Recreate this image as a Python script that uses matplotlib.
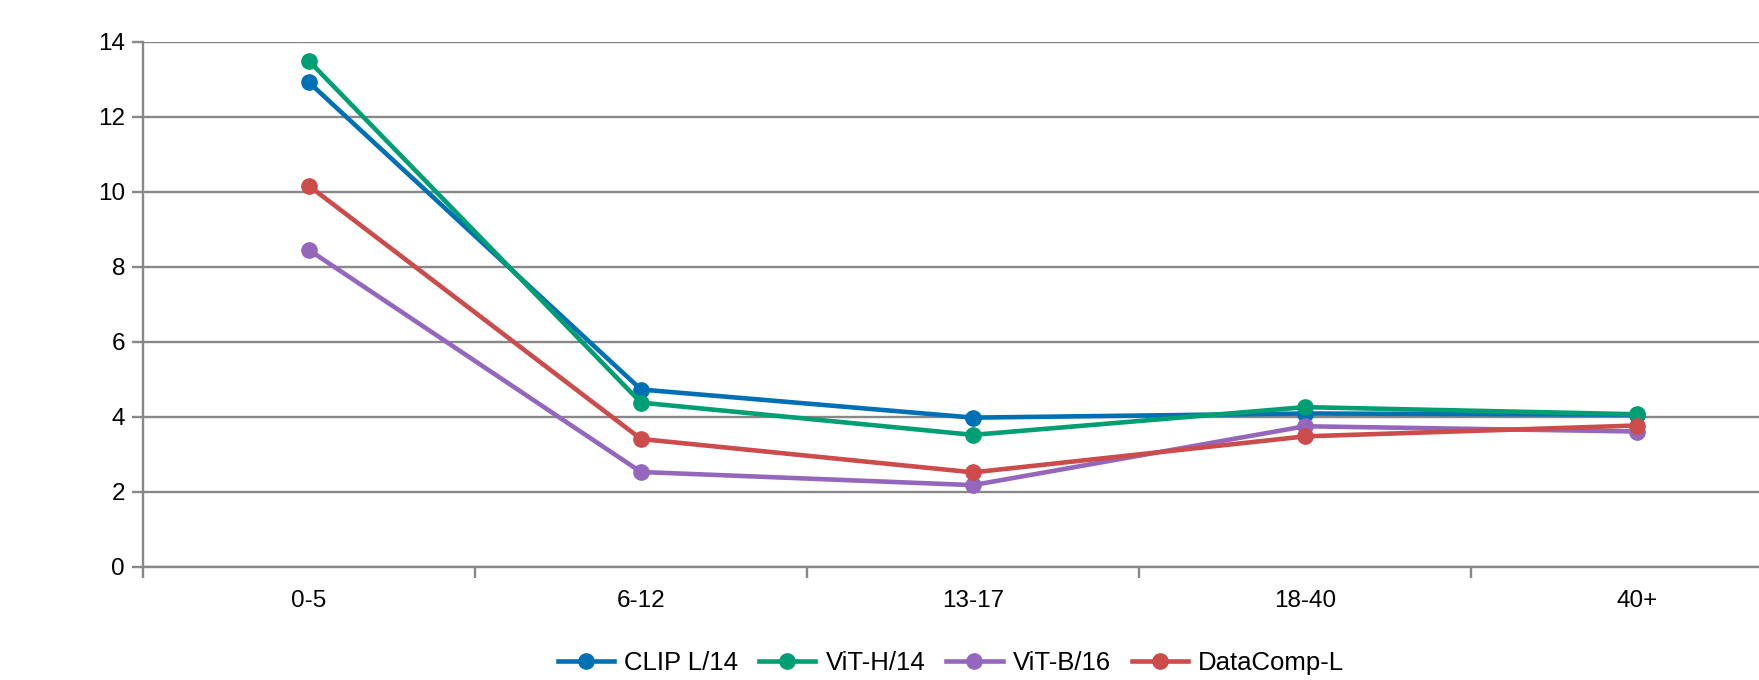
import matplotlib
matplotlib.use("Agg")
from matplotlib import pyplot as plt

plt.rcParams['font.family'] = ['Liberation Sans', 'DejaVu Sans']

age_groups = ['0-5', '6-12', '13-17', '18-40', '40+']
clip_l14 = [12.91, 4.72, 3.97, 4.08, 4.05]
vit_h14 = [13.48, 4.37, 3.51, 4.25, 4.06]
vit_b16 = [8.44, 2.52, 2.17, 3.74, 3.60]
datacomp_l = [10.15, 3.40, 2.51, 3.47, 3.76]

series = [
    ('CLIP L/14', clip_l14, '#0070B5'),
    ('ViT-H/14', vit_h14, '#009E73'),
    ('ViT-B/16', vit_b16, '#9467BD'),
    ('DataComp-L', datacomp_l, '#CC4B4B'),
]

fig = plt.figure(figsize=(17.59, 6.8), dpi=100)
ax = fig.add_axes([143 / 1759, 1 - 566.5 / 680, (1803 - 143) / 1759, (566.5 - 41.5) / 680])

xs = [i + 0.5 for i in range(len(age_groups))]
for name, vals, color in series:
    ax.plot(xs, vals, color=color, lw=3.3, marker='o', markersize=11,
            label=name, solid_joinstyle='round', zorder=3)

ax.set_xlim(0, 5)
ax.set_ylim(0, 14)
ax.set_yticks(range(0, 15, 2))
ax.grid(axis='y', color='#888888', lw=1.7, zorder=1)

# category boundaries as major ticks, labels as minor ticks
ax.set_xticks(range(0, 6))
ax.set_xticklabels([])
ax.set_xticks(xs, minor=True)
ax.set_xticklabels(age_groups, minor=True)
ax.tick_params(axis='x', which='major', length=8, width=1.7, color='#888888')
ax.tick_params(axis='x', which='minor', length=0, pad=17, labelsize=17.5)
ax.tick_params(axis='y', length=8, width=1.7, color='#888888', labelsize=17.5, pad=5)

for side in ['top', 'right']:
    ax.spines[side].set_visible(False)
for side in ['left', 'bottom']:
    ax.spines[side].set_color('#888888')
    ax.spines[side].set_linewidth(1.7)

fig.legend(loc='center', bbox_to_anchor=(951 / 1759, 1 - 663 / 680), ncol=4,
           frameon=False, fontsize=18.5, handlelength=2.2, columnspacing=0.8,
           handletextpad=0.4)

fig.savefig('out.png', dpi=100)
